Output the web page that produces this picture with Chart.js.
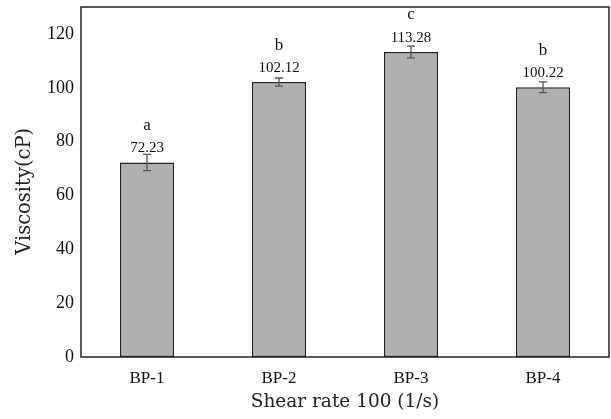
<!DOCTYPE html>
<html>
<head>
<meta charset="utf-8">
<script src="https://cdn.jsdelivr.net/npm/chart.js@4/dist/chart.umd.min.js"></script>
<style>
  html, body { margin: 0; padding: 0; background: #fff; }
  #wrap { width: 611px; height: 419px; position: relative; }
</style>
</head>
<body>
<div id="wrap"><canvas id="chart"></canvas></div>
<script>
// chart data
const categories = ["BP-1", "BP-2", "BP-3", "BP-4"];
const viscosity = [72.23, 102.12, 113.28, 100.22];
const errors = [3.0, 1.5, 2.2, 2.0];
const letters = ["a", "b", "c", "b"];
const yTicks = [0, 20, 40, 60, 80, 100, 120];

const SERIF = "'Liberation Serif', 'Times New Roman', serif";
const TITLE_FONT = "'DejaVu Serif', serif";

// frame round the plot area
const frame = {
    id: "frame",
    afterDraw(chart) {
        const { ctx, chartArea: a } = chart;
        ctx.save();
        ctx.strokeStyle = "#222";
        ctx.lineWidth = 1.5;
        ctx.strokeRect(a.left, a.top, a.right - a.left, a.bottom - a.top);
        ctx.restore();
    }
};

// error bars, value labels and significance letters
const annotations = {
    id: "annotations",
    afterDatasetsDraw(chart) {
        const { ctx } = chart;
        const y = chart.scales.y;
        const meta = chart.getDatasetMeta(0);
        ctx.save();
        meta.data.forEach((bar, i) => {
            const x = bar.x;
            const top = y.getPixelForValue(viscosity[i] + errors[i]);
            const bot = y.getPixelForValue(viscosity[i] - errors[i]);
            ctx.strokeStyle = "#555";
            ctx.lineWidth = 1.3;
            ctx.beginPath();
            ctx.moveTo(x, top); ctx.lineTo(x, bot);
            ctx.moveTo(x - 4, top); ctx.lineTo(x + 4, top);
            ctx.moveTo(x - 4, bot); ctx.lineTo(x + 4, bot);
            ctx.stroke();

            ctx.fillStyle = "#111";
            ctx.textAlign = "center";
            ctx.textBaseline = "middle";
            const barTop = y.getPixelForValue(viscosity[i]);
            ctx.font = "15px " + SERIF;
            ctx.fillText(viscosity[i].toFixed(2), x, barTop - 14);
            ctx.font = "17px " + SERIF;
            ctx.fillText(letters[i], x, barTop - 37);
        });
        ctx.restore();
    }
};

new Chart(document.getElementById("chart"), {
    type: "bar",
    data: {
        labels: categories,
        datasets: [{
            data: viscosity,
            backgroundColor: "#b0b0b0",
            borderColor: "#222",
            borderWidth: 1.5,
            borderSkipped: false,
            barPercentage: 0.82,
            categoryPercentage: 0.5
        }]
    },
    options: {
        responsive: true,
        maintainAspectRatio: false,
        animation: false,
        layout: { padding: { top: 7, right: 2, left: 0, bottom: 0 } },
        plugins: {
            legend: { display: false },
            tooltip: { enabled: false }
        },
        scales: {
            x: {
                grid: { display: false, drawTicks: false },
                border: { display: false },
                ticks: { color: "#111", font: { family: SERIF, size: 17 }, padding: 11 },
                title: {
                    display: true,
                    text: "Shear rate 100 (1/s)",
                    color: "#222",
                    font: { family: TITLE_FONT, size: 18.5 },
                    padding: { top: 4, bottom: 6 }
                },
                afterFit(scale) {
                    scale.height = 62;
                    scale.paddingLeft = 0;
                    scale.paddingRight = 0;
                }
            },
            y: {
                min: 0,
                max: 130,
                grid: { display: false, drawTicks: false },
                border: { display: false },
                afterBuildTicks(scale) {
                    scale.ticks = yTicks.map(v => ({ value: v }));
                },
                ticks: { color: "#111", font: { family: SERIF, size: 18 }, padding: 7 },
                title: {
                    display: true,
                    text: "Viscosity(cP)   ",
                    color: "#222",
                    font: { family: TITLE_FONT, size: 19.5 },
                    padding: { top: 13, bottom: 4 }
                },
                afterFit(scale) {
                    scale.width = 81;
                    scale.paddingTop = 0;
                    scale.paddingBottom = 0;
                }
            }
        }
    },
    plugins: [frame, annotations]
});
</script>
</body>
</html>
